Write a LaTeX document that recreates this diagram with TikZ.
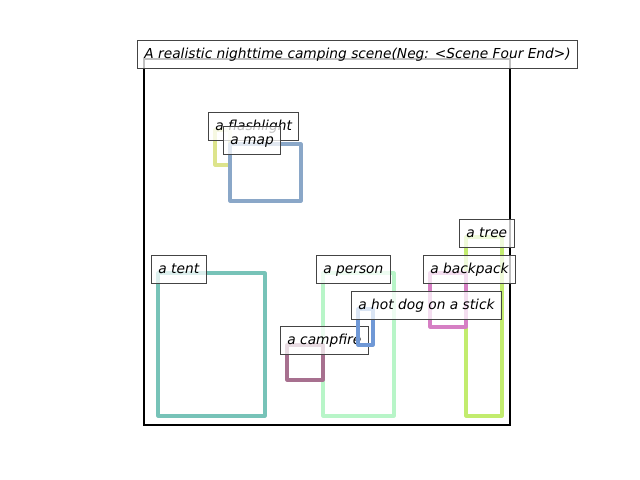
\documentclass[tikz,border=0pt]{standalone}
\usepackage{fontspec}
\setmainfont{DejaVu Sans}
\usetikzlibrary{positioning}

\definecolor{tentcol}{HTML}{77C3B8}
\definecolor{personcol}{HTML}{B8F5C8}
\definecolor{treecol}{HTML}{C2EC6E}
\definecolor{backpackcol}{HTML}{D67FC4}
\definecolor{hotdogcol}{HTML}{6F98D6}
\definecolor{campfirecol}{HTML}{A7708F}
\definecolor{mapcol}{HTML}{8AA7C8}
\definecolor{flashcol}{HTML}{DDE48C}
\definecolor{edgecol}{HTML}{444444}

\tikzset{
  objbox/.style={line width=2.3pt, line join=round},
  tag/.style={draw=edgecol, line width=0.7pt, fill=white, fill opacity=0.75, text opacity=1,
              anchor=west, inner xsep=5pt, inner ysep=3pt, text height=9.96pt, text depth=4.2pt,
              font=\itshape\fontsize{9.9}{12}\selectfont}
}

\begin{document}
\begin{tikzpicture}[x=0.72pt, y=-0.72pt]
    \useasboundingbox (0,0) rectangle (640,480);

    % scene frame
    \draw[line width=2.1pt] (144,59) rectangle (510,425);
    \node[tag] (title) at (137,54) {A realistic nighttime camping scene(Neg: <Scene Four End>)};

    % objects and their labels
    \draw[objbox, flashcol] (215,130) rectangle (230,165);
    \node[tag] (flashlight) at (208,126) {a flashlight};

    \draw[objbox, mapcol] (230,144) rectangle (301,201);
    \node[tag] (map) at (223,140) {a map};

    \draw[objbox, tentcol] (158,273) rectangle (265,416);
    \node[tag] (tent) at (151,269) {a tent};

    \draw[objbox, personcol] (323,273) rectangle (394,416);
    \node[tag] (person) at (316,269) {a person};

    \draw[objbox, campfirecol] (287,345) rectangle (323,380);
    \node[tag] (campfire) at (280,340.5) {a campfire};

    \draw[objbox, hotdogcol] (358,309) rectangle (373,345);

    \draw[objbox, treecol] (466,237) rectangle (502,416);
    \node[tag] (tree) at (459,233) {a tree};

    \draw[objbox, backpackcol] (430,273) rectangle (466,327);
    \node[tag] (backpack) at (423,269) {a backpack};

    \node[tag] (hotdog) at (351,305) {a hot dog on a stick};
\end{tikzpicture}
\end{document}
